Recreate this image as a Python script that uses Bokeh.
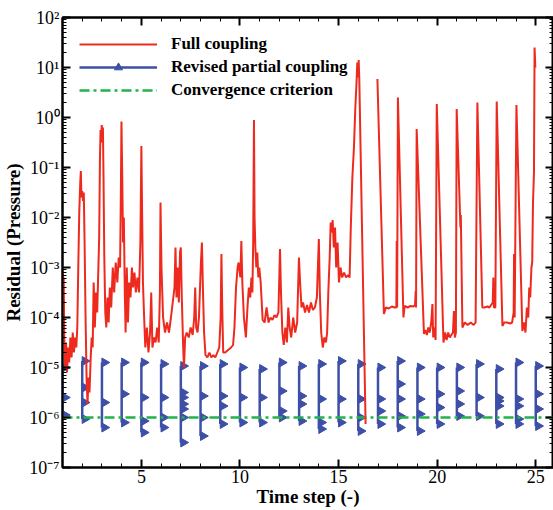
import math
from bokeh.plotting import figure
from bokeh.models import (Range1d, LogAxis, LinearAxis, FixedTicker, SingleIntervalTicker,
                          CustomJSTickFormatter, Legend, LegendItem, ColumnDataSource)
from bokeh.transform import dodge
from bokeh.embed import file_html
from bokeh.resources import INLINE

# ---------------- data ----------------
# Full coupling: time step and log10(residual); NaN = gap in the curve
red_t = [1.00, 1.03, 1.06, 1.09, 1.13, 1.18, 1.23, 1.28, 1.34, 1.40, 1.46, 1.52, 1.58, 1.64, 1.70, 1.75,
         1.80, 1.85, 1.90, 1.93, 1.96, 2.00, 2.04, 2.08, 2.12, 2.17, 2.22, 2.27, 2.32, 2.37, 2.43, 2.48,
         2.53, 2.58, 2.64, 2.70, 2.76, 2.82, 2.86, 2.90, 2.93, 2.96, 2.99, 3.02, 3.05, 3.08, 3.12, 3.17,
         3.22, 3.28, 3.34, 3.40, 3.47, 3.55, 3.62, 3.70, 3.78, 3.85, 3.92, 3.96, 3.99, 4.03, 4.07, 4.11,
         4.16, 4.20, 4.26, 4.32, 4.38, 4.45, 4.52, 4.58, 4.65, 4.72, 4.80, 4.88, 4.95, 5.00, 5.04, 5.08,
         5.14, 5.20, 5.28, 5.36, 5.44, 5.50, 5.56, 5.64, 5.72, 5.80, 5.88, 5.94, 5.97, 6.02, 6.10, 6.20,
         6.30, 6.40, 6.50, 6.62, 6.68, 6.73, 6.78, 6.84, 6.90, 6.96, 7.00, 7.05, 7.12, 7.16, 7.22, 7.30,
         7.40, 7.50, 7.60, 7.68, 7.73, 7.78, 7.85, 7.92, 8.02, 8.07, 8.12, 8.18, 8.25, 8.35, 8.45, 8.55,
         8.65, 8.75, 8.85, 8.95, 9.02, 9.06, 9.10, 9.15, 9.25, 9.40, 9.55, 9.65, 9.72, 9.80, 9.88, 9.93,
         10.02, 10.07, 10.12, 10.20, 10.30, 10.38, 10.45, 10.52, 10.58, 10.63, 10.67, 10.71, 10.74, 10.78,
         10.83, 10.88, 10.93, 10.98, 11.05, 11.15, 11.25, 11.35, 11.45, 11.55, 11.65, 11.75, 11.85, 11.95,
         12.03, 12.08, 12.15, 12.22, 12.30, 12.38, 12.45, 12.52, 12.60, 12.70, 12.80, 12.90, 12.99, 13.05,
         13.12, 13.20, 13.30, 13.40, 13.50, 13.60, 13.70, 13.80, 13.90, 14.00, 14.05, 14.12, 14.20, 14.28,
         14.36, 14.42, 14.48, 14.55, 14.60, 14.65, 14.70, 14.76, 14.82, 14.88, 14.95, 15.02, 15.10, 15.18,
         15.28, 15.38, 15.48, 15.56, 15.62, 15.70, 15.78, 15.85, 15.90, 15.95, 15.98, 16.02, 16.05, 16.37,
         float("nan"),
         16.97, 17.30, 17.40, 17.55, 17.70, 17.85, 17.93, 17.95, 17.97, 18.01, 18.29, 18.35, 18.50, 18.65,
         18.80, 18.88, 18.91, 18.93, 18.96, 19.33, 19.40, 19.48, 19.55, 19.62, 19.70, 19.76, 19.80, 19.86,
         19.92, 19.98, 20.32, 20.40, 20.48, 20.56, 20.64, 20.72, 20.80, 20.85, 20.90, 20.95, 20.99, 21.18,
         21.20, 21.28, 21.40, 21.55, 21.70, 21.85, 21.95, 22.04, 22.29, 22.40, 22.55, 22.65, 22.82, 22.85,
         22.88, 22.95, 23.02, 23.31, 23.40, 23.55, 23.70, 23.80, 23.88, 23.90, 23.93, 24.02, 24.32, 24.40,
         24.48, 24.55, 24.62, 24.67, 24.72, 24.78, 24.82, 24.86, 24.91, 24.94, 24.96, 24.98]
red_log10 = [-3.0, -3.6, -3.2, -4.4, -5.0, -4.5, -5.1, -4.6, -4.9, -4.4, -4.8, -4.3, -4.7, -4.4, -4.6, -4.2,
             -3.0, -1.9, -1.3, -1.07, -1.6, -1.47, -1.67, -1.5, -2.5, -4.0, -5.2, -5.73, -5.2, -5.5, -4.8, -4.4,
             -4.6, -3.3, -4.2, -3.5, -3.9, -3.0, -2.4, -0.8, -0.25, -0.5, -0.15, -0.3, -0.2, -1.2, -2.8, -3.9,
             -4.2, -3.6, -4.1, -3.4, -3.8, -3.0, -3.5, -2.9, -3.3, -2.8, -3.0, -1.5, -0.08, -1.2, -2.5, -2.0,
             -3.5, -4.3, -3.0, -4.1, -3.3, -3.6, -3.0, -3.4, -3.1, -3.5, -3.2, -3.5, -2.5, -0.57, -2.0, -3.3,
             -4.0, -4.6, -4.2, -4.7, -4.3, -3.5, -4.6, -4.4, -4.5, -4.2, -4.5, -3.5, -1.7, -3.0, -4.0, -4.3,
             -4.1, -4.3, -4.0, -3.6, -3.4, -2.6, -3.6, -3.0, -3.7, -2.7, -2.6, -3.6, -4.6, -5.0, -4.4, -4.3,
             -4.4, -4.2, -4.35, -4.0, -3.4, -4.2, -4.3, -4.0, -2.9, -2.5, -3.4, -4.3, -4.75, -4.8, -4.7, -4.8,
             -4.75, -4.8, -4.7, -4.6, -4.0, -2.73, -3.8, -4.7, -4.7, -4.65, -4.6, -4.55, -4.2, -3.4, -3.0, -2.9,
             -3.2, -2.47, -3.3, -4.0, -4.4, -3.8, -3.4, -3.6, -3.2, -3.5, -2.5, -0.05, -2.0, -2.6,
             -3.0, -2.7, -3.2, -3.0, -3.3, -4.05, -4.1, -3.8, -4.1, -4.0, -4.05, -3.95, -4.0, -3.9,
             -2.63, -3.5, -4.3, -4.55, -4.2, -4.5, -3.8, -4.2, -4.4, -4.0, -4.3, -4.1, -2.8, -3.3,
             -3.8, -3.7, -3.9, -3.75, -3.9, -3.7, -3.85, -3.8, -3.6, -2.43, -3.5, -4.3, -4.6, -4.4,
             -4.5, -4.3, -3.5, -2.8, -2.1, -2.3, -2.05, -2.6, -2.2, -3.0, -2.5, -3.3, -3.0, -3.2,
             -3.1, -3.2, -3.15, -3.2, -2.2, -1.2, -0.6, 0.2, 0.6, 1.1, 0.8, 1.15, 0.8, -6.13,
             float("nan"),
             0.77, -3.93, -3.8, -3.82, -3.78, -3.8, -3.8, -2.47, -3.8, 0.4, -4.0, -3.77, -3.8, -3.77,
             -3.78, -3.75, -3.47, -3.8, -0.23, -4.33, -4.25, -4.35, -4.2, -4.3, -4.1, -3.73, -4.4, -4.2,
             -4.45, 0.27, -4.5, -4.3, -4.45, -4.3, -4.4, -4.35, -4.3, -3.87, -4.4, -4.3, 0.17, -2.2,
             -1.95, -4.2, -4.1, -4.15, -4.1, -4.15, -4.1, 0.3, -3.8, -3.8, -3.78, -3.8, -3.7, -3.2,
             -3.8, -3.8, 0.32, -4.17, -4.1, -4.1, -4.12, -4.1, -3.9, -2.73, -4.0, 0.25, -4.27, -4.1,
             -4.3, -3.8, -4.0, -3.4, -3.6, -3.0, -2.9, -1.7, -1.1, 1.4, 1.2, 1.0]

# Revised partial coupling: one column of sub-iterations per time step (log10 residual)
blue_steps = [1, 2, 3, 4, 5, 6, 7, 8, 9, 10, 11, 12, 13, 14, 15, 16, 17, 18, 19, 20, 21, 22, 23, 24, 25]
blue_log10 = [
    [-5.0, -5.6, -5.95],
    [-4.87, -5.4, -5.7, -6.03],
    [-4.9, -5.7, -6.2],
    [-4.9, -5.53, -6.1],
    [-4.9, -5.6, -6.07, -6.3],
    [-4.93, -5.6, -6.0, -6.2],
    [-4.97, -5.5, -5.6, -5.73, -5.83, -6.0, -6.5],
    [-4.97, -5.57, -6.0, -6.37],
    [-4.93, -5.57, -5.77, -6.13],
    [-5.0, -5.6, -6.1],
    [-5.03, -5.6, -6.1],
    [-4.9, -5.47, -5.87, -6.0],
    [-4.97, -5.57, -5.73, -6.07],
    [-4.93, -5.63, -6.1, -6.23],
    [-4.87, -5.63, -6.1],
    [-4.93, -5.63, -6.0, -6.27],
    [-5.0, -5.63, -5.87, -6.13],
    [-4.87, -5.33, -5.63, -5.97, -6.2],
    [-5.0, -5.63, -5.93, -6.27],
    [-5.0, -5.53, -5.8, -6.13],
    [-5.0, -5.47, -5.73, -5.97],
    [-4.93, -5.6, -5.97],
    [-5.03, -5.6, -5.67, -5.77, -6.13],
    [-4.9, -5.63, -5.77, -6.03, -6.13],
    [-4.97, -5.53, -5.83, -6.17],
]

# Convergence criterion
conv_t = [1.0, 25.9]
conv_res = [1e-6, 1e-6]

x_limits = (1.0, 25.9)
y_limits = (1e-7, 1e2)
y_decades = [-7, -6, -5, -4, -3, -2, -1, 0, 1, 2]

# ---------------- build ----------------
red_res = [10 ** e for e in red_log10]
blue_xs = [[s] * len(v) for s, v in zip(blue_steps, blue_log10)]
blue_ys = [[10 ** e for e in v] for v in blue_log10]
flat_t = [x for col in blue_xs for x in col]
flat_r = [y for col in blue_ys for y in col]
blue_pts = ColumnDataSource(dict(t=flat_t, r=flat_r, ang=[-math.pi / 2] * len(flat_t)))

FONT = "Liberation Serif"
RED = "#ee2a1e"
BLUE = "#3d4fa6"
GREEN = "#22b34a"

p = figure(width=553, height=510, y_axis_type="log",
           x_range=Range1d(*x_limits), y_range=Range1d(*y_limits),
           output_backend="svg", toolbar_location=None,
           min_border_left=62, min_border_right=0, min_border_top=17, min_border_bottom=43)
p.xgrid.visible = False
p.ygrid.visible = False
p.outline_line_color = "black"
p.outline_line_width = 2
p.background_fill_color = "white"
p.border_fill_color = "white"

major_y = [10.0 ** e for e in y_decades]
minor_y = [k * 10.0 ** e for e in y_decades[:-1] for k in range(2, 10)]
yticker = FixedTicker(ticks=major_y, minor_ticks=minor_y)
xticker = SingleIntervalTicker(interval=5, num_minor_ticks=5)

sup_fmt = CustomJSTickFormatter(code="""
const e = Math.round(Math.log10(tick));
const sup = {'-':'\u207b','0':'\u2070','1':'\u00b9','2':'\u00b2','3':'\u00b3','4':'\u2074',
             '5':'\u2075','6':'\u2076','7':'\u2077','8':'\u2078','9':'\u2079'};
return '10' + String(e).split('').map(c => sup[c]).join('');
""")
blank_fmt = CustomJSTickFormatter(code="return '';")

p.yaxis[0].ticker = yticker
p.yaxis[0].formatter = sup_fmt
p.xaxis[0].ticker = xticker
p.xaxis.axis_label = "Time step (-)"
p.yaxis.axis_label = "Residual (Pressure)"

def style_axis(ax, labels=True):
    ax.axis_line_width = 2
    ax.axis_line_color = "black"
    ax.major_tick_in = 8
    ax.major_tick_out = 0
    ax.minor_tick_in = 4
    ax.minor_tick_out = 0
    ax.major_tick_line_width = 2
    ax.minor_tick_line_width = 1
    ax.major_tick_line_color = "black"
    ax.minor_tick_line_color = "black"
    if labels:
        ax.major_label_text_font = FONT
        ax.major_label_text_font_size = "18px"
        ax.major_label_text_color = "black"
        ax.major_label_standoff = 3
        ax.axis_label_text_font = FONT
        ax.axis_label_text_font_style = "bold"
        ax.axis_label_text_font_size = "19px"
        ax.axis_label_text_color = "black"
        ax.axis_label_standoff = 2
    else:
        ax.major_label_text_font_size = "0px"
        ax.major_label_standoff = 0

style_axis(p.xaxis[0])
style_axis(p.yaxis[0])
p.xaxis[0].axis_label_standoff = 0
p.xaxis[0].major_label_standoff = 2

right_ax = LogAxis(ticker=yticker, formatter=blank_fmt)
top_ax = LinearAxis(ticker=xticker, formatter=blank_fmt)
style_axis(right_ax, labels=False)
style_axis(top_ax, labels=False)
p.add_layout(right_ax, "right")
p.add_layout(top_ax, "above")

# blue columns (lines) + right-pointing triangles
blue_line = p.multi_line(blue_xs, blue_ys, line_color=BLUE, line_width=2.5)
blue_sc = p.scatter(x=dodge("t", 0.13, range=p.x_range), y="r", source=blue_pts,
                    marker="triangle", size=9, angle="ang",
                    fill_color=BLUE, line_color=BLUE)

green = p.line(conv_t, conv_res, line_color=GREEN, line_width=2.5, line_dash="10 4 3 4")
red = p.line(red_t, red_res, line_color=RED, line_width=2)

legend = Legend(items=[
    LegendItem(label="Full coupling", renderers=[red]),
    LegendItem(label="Revised partial coupling", renderers=[blue_line, blue_sc], index=0),
    LegendItem(label="Convergence criterion", renderers=[green]),
], location="top_left")
legend.label_text_font = FONT
legend.label_text_font_style = "bold"
legend.label_text_font_size = "17px"
legend.label_text_color = "black"
legend.glyph_width = 78
legend.glyph_height = 20
legend.label_standoff = 14
legend.spacing = 3
legend.padding = 7
legend.margin = 10
legend.border_line_alpha = 0
legend.background_fill_alpha = 0
p.add_layout(legend)

open("out.html", "w").write(file_html(p, INLINE))
